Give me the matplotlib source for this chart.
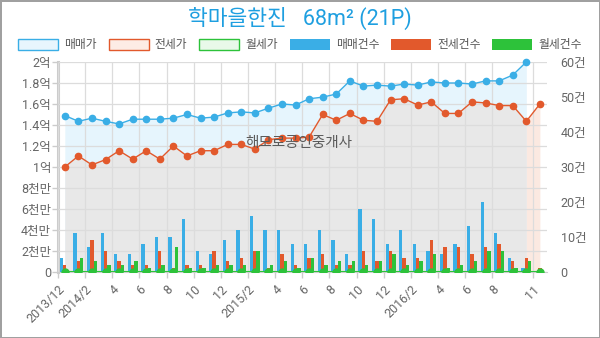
import matplotlib
matplotlib.use('Agg')
import matplotlib.pyplot as plt
from matplotlib.patches import Patch
from matplotlib import ticker, transforms
import numpy as np

plt.rcParams['font.family'] = ['Roboto', 'Noto Sans CJK KR', 'DejaVu Sans']

# monthly data 2013/12 .. 2016/11, prices in 만원
months = ['2013/12'] + ['2014/%d' % m for m in range(1, 13)] + \
         ['2015/%d' % m for m in range(1, 13)] + ['2016/%d' % m for m in range(1, 12)]
sale_price = [14900, 14350, 14650, 14350, 14100, 14550, 14550, 14550, 14650, 15000,
              14650, 14750, 15150, 15250, 15150, 15600, 16000, 15900, 16500, 16650,
              16950, 18200, 17700, 17800, 17700, 17900, 17800, 18100, 18000, 18000,
              17900, 18200, 18200, 18750, 20000]
jeonse_price = [10000, 11050, 10200, 10700, 11550, 10750, 11550, 10750, 12000, 11050,
                11550, 11550, 12150, 12150, 11700, 12600, 12750, 12750, 12850, 15000,
                14450, 15100, 14450, 14350, 16400, 16500, 15900, 16200, 15100, 15100,
                16200, 16100, 15850, 15850, 14350, 16000]
monthly_price = [0] * 36
sale_cnt = [4, 11, 7, 11, 5, 5, 8, 10, 10, 15, 6, 5, 9, 12, 16, 12, 12, 8,
            8, 12, 9, 5, 18, 15, 8, 12, 8, 6, 5, 8, 13, 20, 11, 4, 1, 0]
jeonse_cnt = [2, 3, 9, 6, 3, 2, 2, 6, 1, 2, 2, 6, 3, 4, 6, 1, 5, 2,
              4, 5, 2, 2, 6, 3, 6, 4, 4, 9, 7, 7, 5, 7, 8, 3, 4, 1]
monthly_cnt = [0, 4, 3, 2, 2, 3, 1, 2, 7, 1, 1, 2, 2, 2, 6, 2, 3, 1,
               4, 2, 3, 3, 2, 3, 5, 2, 3, 5, 1, 2, 3, 6, 6, 1, 3, 0]
tick_idx = list(range(0, 33, 2)) + [35]
tick_labels = ['2013/12', '2014/2', '4', '6', '8', '10', '12', '2015/2', '4', '6',
               '8', '10', '12', '2016/2', '4', '6', '8', '11']
price_ticks = [0, 2000, 4000, 6000, 8000, 10000, 12000, 14000, 16000, 18000, 20000]
price_labels = ['0', '2천만', '4천만', '6천만', '8천만', '1억', '1.2억', '1.4억',
                '1.6억', '1.8억', '2억']
cnt_ticks = [0, 10, 20, 30, 40, 50, 60]
cnt_labels = ['0', '10건', '20건', '30건', '40건', '50건', '60건']

BLUE, ORANGE, GREEN = '#3aaee6', '#e2592c', '#2dc23a'
TXT = '#666666'
GRID = '#dcdcdc'

x = np.arange(len(months)) + 0.5
xs = x[:len(sale_price)]

fig = plt.figure(figsize=(6, 3.38), dpi=100)
fig.patch.set_edgecolor('#a0a0a0')
fig.patch.set_linewidth(2)
ax = fig.add_axes([0.0967, 0.1953, 0.8144, 0.6213])

# area fills
ax.fill_between(xs, sale_price, 0, color='#e6f5fd', lw=0, zorder=1)
ax.fill_between(xs, jeonse_price[:len(xs)], 0, color='#e8e8e8', lw=0, zorder=1.1)
ax.fill_between(x[len(xs) - 1:], jeonse_price[len(xs) - 1:], 0, color='#fbe9e1', lw=0, zorder=1.1)

ax.set_xlim(0, 36)
ax.set_ylim(0, 20000)
ax.set_axisbelow(False)
ax.grid(True, color=GRID, lw=0.9, zorder=1.5)
ax.yaxis.set_major_locator(ticker.FixedLocator(price_ticks))
ax.set_yticklabels(price_labels)
ax.set_xticks(tick_idx)
ax.set_xticklabels(tick_labels, rotation=45, ha='right', va='top', rotation_mode='anchor')
shift = transforms.ScaledTranslation(5 / 72, 0, fig.dpi_scale_trans)
for lab in ax.get_xticklabels():
    lab.set_transform(lab.get_transform() + shift)
ax.tick_params(axis='both', colors='#cccccc', labelcolor=TXT, labelsize=9, length=4, width=1)
ax.tick_params(axis='y', pad=1)
ax.tick_params(axis='x', pad=4)
for s in ['top', 'right']:
    ax.spines[s].set_visible(False)
ax.spines['left'].set_color('#cccccc')
ax.spines['left'].set_linewidth(2.2)
ax.spines['bottom'].set_color('#cccccc')

# counts on the right axis
ax2 = ax.twinx()
w = 0.245
ax2.bar(x - w, sale_cnt, width=w, color=BLUE, zorder=2)
ax2.bar(x, jeonse_cnt, width=w, color=ORANGE, zorder=2)
ax2.bar(x + w, monthly_cnt, width=w, color=GREEN, zorder=2)
ax2.set_ylim(0, 60)
ax2.set_yticks(cnt_ticks)
ax2.set_yticklabels(cnt_labels)
ax2.tick_params(axis='y', length=0, pad=10, labelcolor=TXT, labelsize=9)
for s in ax2.spines.values():
    s.set_visible(False)

# price lines on top
ax3 = ax.twinx()
ax3.set_ylim(0, 20000)
ax3.axis('off')
ax3.plot(xs, sale_price, '-o', color=BLUE, lw=1, ms=4.5, clip_on=False)
ax3.plot(x, jeonse_price, '-o', color=ORANGE, lw=1, ms=4.5, clip_on=False)
ax3.plot(x, monthly_price, '-o', color=GREEN, lw=1.5, ms=5)

fig.text(0.5, 0.944, '학마을한진   68m² (21P)', color='#1e9fe0', fontsize=15.5,
         ha='center', va='center')
fig.text(0.498, 1 - 143 / 338, '해모로공인중개사', color='#5a5a5a', fontsize=10.5,
         ha='center', va='center')

handles = [Patch(facecolor='#e8f5fd', edgecolor=BLUE, lw=1),
           Patch(facecolor='#fdece5', edgecolor=ORANGE, lw=1),
           Patch(facecolor='#e9f9e9', edgecolor=GREEN, lw=1),
           Patch(facecolor=BLUE), Patch(facecolor=ORANGE), Patch(facecolor=GREEN)]
names = ['매매가', '전세가', '월세가', '매매건수', '전세건수', '월세건수']
fig.legend(handles, names, loc='center', bbox_to_anchor=(0.5, 0.867), ncol=6,
           frameon=False, fontsize=8.5, handlelength=3.4, handleheight=1.1,
           columnspacing=1.0, handletextpad=0.5, labelcolor='#555555')

fig.savefig('out.png', dpi=100)
plt.close(fig)
